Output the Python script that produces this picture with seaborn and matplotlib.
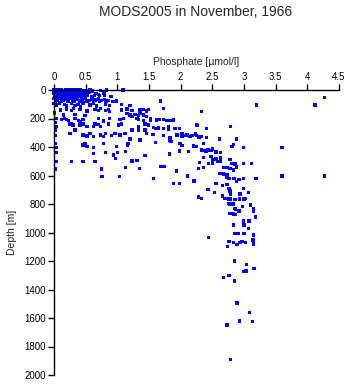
import matplotlib
matplotlib.use("Agg")
import matplotlib.pyplot as plt
import seaborn as sns
import pandas as pd

title = "MODS2005 in November, 1966"
x_label = "Phosphate [\u00b5mol/l]"
y_label = "Depth [m]"
x_ticks = [0, 0.5, 1, 1.5, 2, 2.5, 3, 3.5, 4, 4.5]
x_tick_labels = ["0", "0.5", "1", "1.5", "2", "2.5", "3", "3.5", "4", "4.5"]
y_ticks = [0, 200, 400, 600, 800, 1000, 1200, 1400, 1600, 1800, 2000]

# (phosphate, depth) samples, grouped by depth band
surface = [(0.0,0),(0.03,5),(0.06,0),(0.09,10),(0.12,0),(0.15,5),(0.18,0),(0.21,10),(0.24,0),(0.27,5),
           (0.3,0),(0.33,10),(0.36,0),(0.39,5),(0.42,0),(0.46,2),(0.52,5),(0.57,0),(0.6,8),(0.73,3),
           (0.8,10),(0.83,0),(1.09,0),
           (0.02,12),(0.07,14),(0.13,10),(0.19,13),(0.26,12),(0.31,14),(0.37,11),(0.43,13),
           (0.0,20),(0.04,15),(0.08,22),(0.12,18),(0.16,25),(0.2,15),(0.24,20),(0.28,25),(0.32,15),
           (0.36,22),(0.4,18),(0.44,25),(0.5,20),(0.55,18),(0.66,25),(0.7,30),(0.78,22),
           (0.02,28),(0.07,27),(0.13,30),(0.19,28),(0.24,30),(0.3,27),(0.36,29),(0.41,28),
           (0.01,35),(0.05,40),(0.1,32),(0.14,45),(0.18,38),(0.22,48),(0.26,35),(0.3,42),(0.34,30),
           (0.38,45),(0.42,38),(0.47,42),(0.52,35),(0.6,45),(0.64,38),(0.72,40),(0.8,36),(0.9,47),
           (0.03,50),(0.08,52),(0.12,48),(0.17,53),(0.27,50),(0.32,52),(0.37,50),(0.44,52),
           (0.0,60),(0.05,70),(0.1,58),(0.15,75),(0.2,65),(0.25,60),(0.3,72),(0.35,62),(0.4,78),
           (0.45,66),(0.5,60),(0.55,74),(0.6,64),(0.65,70),(0.7,62),(0.75,75),(0.8,68),(0.85,72),(0.99,77),
           (0.02,80),(0.12,82),(0.22,80),(0.32,82),(0.42,80),(0.52,82),(0.62,80),(0.72,82),(0.82,80),
           (0.92,82),(0.98,80),(4.27,54),(4.12,105),(3.2,105)]
upper = [(0.0,95),(0.04,105),(0.09,90),(0.17,100),(0.2,112),(0.28,95),(0.33,108),(0.38,100),(0.42,115),
         (0.46,92),(0.57,105),(0.62,95),(0.67,112),(0.81,100),(0.88,108),(1.07,100),(1.2,110),(1.68,77),
         (0.1,140),(0.2,135),(0.28,145),(0.31,130),(0.41,138),(0.52,148),(0.65,135),(0.7,142),(0.73,130),
         (0.81,145),(0.86,138),(0.88,150),(1.07,140),(1.15,132),(1.23,145),(1.36,140),(1.41,135),
         (1.46,148),(1.49,138),(1.73,129),(2.33,152),(0.01,160),
         (0.15,175),(0.33,170),(0.49,180),(1.15,165),(1.2,175),(1.23,185),(1.28,170),(1.33,180),
         (1.36,165),(1.41,175),(1.46,185),
         (0.04,199),(0.12,205),(0.17,199),(0.2,205),(0.33,199),(0.46,205),(0.7,199),(0.88,199),(1.04,205),
         (1.1,199),(1.31,200),(1.33,205),(0.23,215),(0.39,212),(0.41,220),(0.78,218),(1.41,215),(1.52,202),
         (1.52,210),(1.62,210),(1.67,208),(1.73,206),(1.78,212),(1.83,214),(1.89,210),(0.02,230),
         (0.25,240),(0.28,236),(0.3,245),(0.46,240),(0.41,246),(0.65,238),(0.7,244),(0.86,240),(1.02,246),
         (1.07,238),(1.44,240),(1.49,246),(0.04,257),(0.52,257),(0.62,257),(0.73,257),(1.33,257),
         (2.26,250),(2.79,255),(2.25,246),
         (1.57,264),(1.6,270),(1.65,268),(1.73,270),(1.81,260),(1.81,278),(1.91,269),(1.98,269),
         (2.41,269),(0.02,281),(0.33,281),(1.23,281),(1.33,281),(1.44,281)]
middle = [(0.25,304),(0.57,304),(0.81,304),(0.96,304),(1.12,304),(1.46,304),(1.56,311),(1.73,320),
          (1.83,335),(1.83,350),(1.94,316),(2.02,305),(2.02,328),(2.05,320),(2.1,316),(2.15,325),
          (2.18,320),(2.23,308),(2.25,318),(2.28,330),(2.3,335),(2.33,325),(2.41,335),(2.61,344),
          (2.88,344),(0.02,320),(0.46,316),(0.52,322),(0.62,328),(0.73,316),(0.78,328),(0.91,320),
          (1.04,316),(1.2,345),(1.36,350),
          (1.85,360),(1.99,377),(1.6,370),(2.36,375),(2.83,382),(0.02,374),(0.49,374),(0.78,374),
          (1.17,374),(2.02,390),(2.2,392),(2.25,397),(2.81,397),(2.99,402),(3.6,402),(0.03,402),
          (0.46,386),(0.52,397),(0.62,402),(0.99,395),(1.16,386),
          (0.81,437),(1.0,437),(1.13,433),(0.62,444),(0.94,456),(1.44,461),(1.82,449),(1.98,428),
          (0.03,437),(2.12,433),(2.33,420),(2.38,425),(2.43,420),(2.48,425),(2.5,415),(2.56,435),
          (2.63,440),(2.4,433),
          (0.97,480),(1.23,498),(1.31,494),(0.03,503),(0.28,503),(0.46,503),(0.65,503),(2.36,475),
          (2.48,468),(2.5,490),(2.56,485),(2.63,478),(2.3,508),(2.44,515),(2.5,515),(2.58,500),
          (2.63,500),(2.78,488),(2.81,515),(2.86,520),(2.99,515),(3.12,515)]
lower = [(0.02,554),(0.75,554),(1.13,545),(1.35,550),(1.69,536),(1.74,536),(1.93,568),(2.28,550),
         (2.36,545),(2.68,545),(2.73,545),(2.78,550),(2.83,562),(2.88,540),
         (2.62,585),(2.68,590),(2.73,596),(2.76,620),(2.73,615),(2.84,620),(2.92,630),(2.99,620),
         (2.88,643),(3.19,620),(2.11,603),(0.76,606),(1.03,606),(1.57,620),(3.6,604),(4.27,604),
         (2.21,639),(1.89,657),(1.98,655),(2.56,655),(2.66,671),(2.73,665),(2.76,690),(2.43,697),(2.99,690),
         (2.78,710),(2.79,730),(3.07,720),(2.94,730),(3.02,760),(2.28,750),(2.33,760),(2.53,720),
         (2.66,744),(2.7,760),(2.76,765),(2.78,765),(2.93,765),(3.0,765),(2.86,770),(2.83,800),
         (2.76,795),(2.78,800)]
deep = [(3.1,807),(2.98,818),(3.15,830),(3.15,850),(2.86,830),(2.92,850),(2.87,840),(2.78,865),
        (2.83,870),(2.86,875),(3.18,890),(2.99,915),(2.99,925),(3.08,920),(2.83,943),(2.83,952),
        (3.0,947),(3.07,970),
        (3.15,1017),(2.44,1034),(2.86,1005),(2.91,1005),(3.0,1005),(2.76,1065),(2.83,1070),
        (2.89,1083),(2.94,1070),(2.97,1065),(3.02,1072),(3.14,1053),(3.15,1081),(2.74,1097),
        (2.85,1200),(3.04,1223),(3.16,1251),(3.0,1275),(3.03,1270),(2.76,1303),(2.68,1314),
        (2.85,1340),(2.89,1496),(3.09,1560),(2.93,1621),(3.13,1626),(2.73,1649),(2.79,1890)]

samples = surface + upper + middle + lower + deep
df = pd.DataFrame(samples, columns=["phosphate", "depth"])

sns.set_style("white")
plt.rcParams["font.family"] = ["Liberation Sans", "DejaVu Sans"]

fig = plt.figure(figsize=(3.5, 3.84), dpi=100)
ax = fig.add_axes([54/350, 1-375/384, (339-54)/350, (375-90)/384])

sns.scatterplot(data=df, x="phosphate", y="depth", ax=ax, marker="s", s=6,
                color="#0000ff", edgecolor="none", linewidth=0, clip_on=False)

ax.set_xlim(0, 4.5)
ax.set_ylim(2000, 0)
ax.xaxis.tick_top()
ax.xaxis.set_label_position("top")
ax.set_xticks(x_ticks)
ax.set_xticklabels(x_tick_labels)
ax.set_yticks(y_ticks)
ax.tick_params(axis="both", direction="out", length=4, width=1, color="black",
               labelsize=7, pad=2, labelcolor="black")
ax.tick_params(axis="x", top=True, bottom=False)
ax.tick_params(axis="y", left=True, right=False)
for side in ["right", "bottom"]:
    ax.spines[side].set_visible(False)
for side in ["top", "left"]:
    ax.spines[side].set_color("black")
    ax.spines[side].set_linewidth(1)
ax.set_xlabel(x_label, fontsize=7.5, labelpad=5)
ax.set_ylabel(y_label, fontsize=7.5, labelpad=5)

fig.text(196/350, 1-12/384, title, ha="center", va="center", fontsize=10)

fig.savefig("out.png", dpi=100)
